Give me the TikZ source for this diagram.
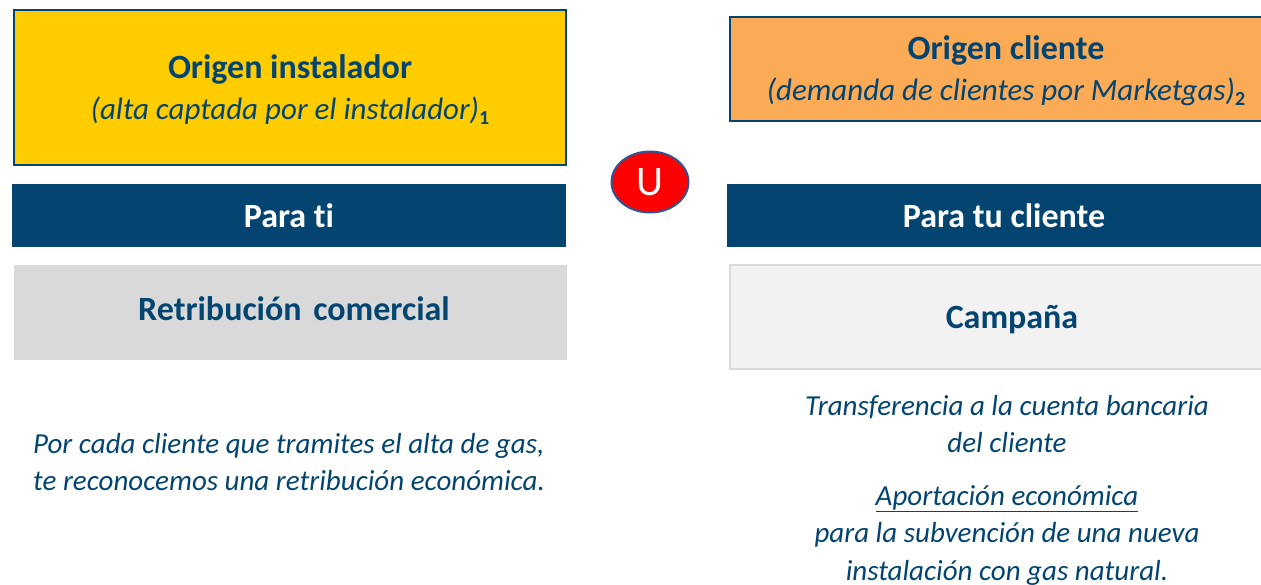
\documentclass[tikz,border=0pt]{standalone}
\usepackage{fontspec}
\setmainfont{Carlito}[Ligatures=NoCommon]
\usetikzlibrary{shapes.geometric}
\definecolor{navy}{RGB}{3,69,112}
\definecolor{boxyellow}{RGB}{255,204,0}
\definecolor{boxorange}{RGB}{251,170,85}
\definecolor{boxgray}{RGB}{217,217,217}
\definecolor{boxlight}{RGB}{242,242,242}
\definecolor{ovalred}{RGB}{255,0,0}
\definecolor{ovalblue}{RGB}{47,85,151}
\tikzset{
  txt/.style={text=navy, inner sep=0pt, font=\fontsize{34}{38}\selectfont\bfseries},
  sub/.style={text=navy, inner sep=0pt, font=\fontsize{31}{34}\selectfont\itshape},
  body/.style={text=navy, inner sep=0pt, font=\fontsize{29}{37.5}\selectfont\itshape},
  bar/.style={fill=navy, draw=none},
  bartxt/.style={text=white, inner sep=0pt, font=\fontsize{34}{38}\selectfont\bfseries},
}
\newcommand{\idx}[1]{\raisebox{-0.35ex}{\fontsize{20}{20}\selectfont\bfseries\upshape #1}}
\begin{document}
\begin{tikzpicture}[x=1pt,y=-1pt]
\useasboundingbox (0,0) rectangle (1261,584);
\clip (0,0) rectangle (1261,584);
% left column
\draw[fill=boxyellow, draw=navy, line width=2pt] (14,10) rectangle (566,165);
\node[txt] (oi) at (290,69) {Origen instalador};
\node[sub] (ois) at (290,111) {(alta captada por el instalador)\idx{1}};
\fill[bar] (12,184) rectangle (566,247);
\node[bartxt] (pt) at (289,216) {Para ti};
\fill[boxgray] (14,265) rectangle (567,360);
\node[txt] (rc) at (294,309) {Retribución\hspace{0.12em} comercial};
\node[body, anchor=west, align=left] (lt) at (33,462) {Por cada cliente que tramites el alta de gas,\\te reconocemos una retribución económica.};
% union oval
\node[ellipse, fill=ovalred, draw=ovalblue, line width=2pt, minimum width=77pt, minimum height=61pt, inner sep=0pt] (u) at (650,182) {};
\node[text=white, inner sep=0pt, font=\fontsize{42}{42}\selectfont] (ut) at (u.center) {U};
% right column
\draw[fill=boxorange, draw=navy, line width=2pt] (730,17) rectangle (1275,121);
\node[txt] (oc) at (1006,50) {Origen cliente};
\node[sub] (ocs) at (1006,92) {(demanda de clientes por Marketgas)\idx{2}};
\fill[bar] (727,184) rectangle (1275,247);
\node[bartxt] (ptc) at (1004,216) {Para tu cliente};
\draw[fill=boxlight, draw=boxgray, line width=2pt] (730,265) rectangle (1275,369);
\node[txt] (cp) at (1012,320) {Campaña};
\node[body, align=center] (tr) at (1007,424) {Transferencia a la cuenta bancaria\\del cliente};
\node[body, align=center, anchor=north] (ap) at (1007,485) {\underline{Aportación económica}\\para la subvención de una nueva\\instalación con gas natural.};
\end{tikzpicture}
\end{document}
